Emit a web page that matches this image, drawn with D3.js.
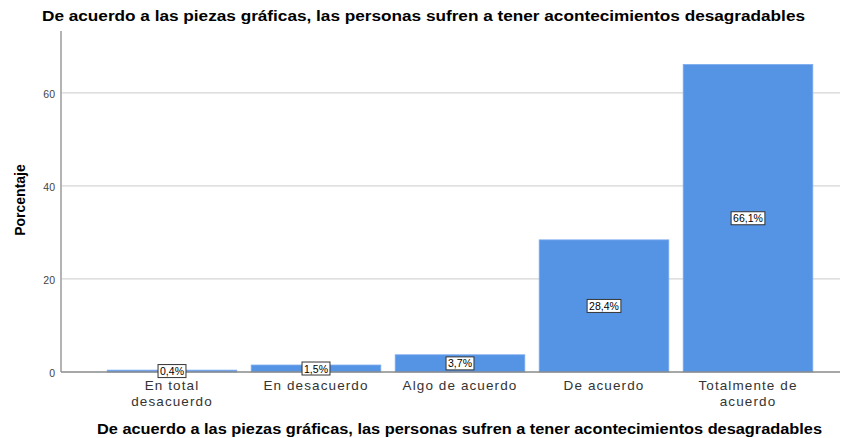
<!DOCTYPE html>
<html>
<head>
<script src="https://d3js.org/d3.v7.min.js"></script>
<style>
body { margin: 0; background: white; }
text { font-family: "Liberation Sans", Arial, sans-serif; }
</style>
</head>
<body>
<svg id="chart" width="845" height="438"></svg>
<script>
var categories = ["En total|desacuerdo", "En desacuerdo", "Algo de acuerdo", "De acuerdo", "Totalmente de|acuerdo"];
var values = [0.4, 1.5, 3.7, 28.4, 66.1];
var valueLabels = ["0,4%", "1,5%", "3,7%", "28,4%", "66,1%"];
var yTicks = [0, 20, 40, 60];
var title = "De acuerdo a las piezas gráficas, las personas sufren a tener acontecimientos desagradables";

var svg = d3.select("#chart");
var plotLeft = 61, plotRight = 840, plotTop = 31, plotBottom = 372;

var x = d3.scaleBand().domain(categories).range([100, 820]).paddingInner(0.1).paddingOuter(0.05);
var y = d3.scaleLinear().domain([0, 73.3]).range([plotBottom, plotTop]);

// gridlines
svg.append("g").selectAll("line").data(yTicks.filter(function(d) { return d > 0; })).enter().append("line")
  .attr("x1", plotLeft + 1).attr("x2", plotRight)
  .attr("y1", function(d) { return y(d); }).attr("y2", function(d) { return y(d); })
  .attr("stroke", "#d6d6d6").attr("stroke-width", 1.2);

// bars
svg.append("g").selectAll("rect").data(values).enter().append("rect")
  .attr("x", function(d, i) { return x(categories[i]); })
  .attr("width", x.bandwidth())
  .attr("y", function(d) { return y(d); })
  .attr("height", function(d) { return plotBottom - y(d); })
  .attr("fill", "#5594e4")
  .attr("stroke", "#7aaaf0").attr("stroke-width", 0.8);

// axes lines
svg.append("line").attr("x1", plotLeft).attr("x2", plotLeft).attr("y1", plotTop).attr("y2", plotBottom)
  .attr("stroke", "#8a8a8a").attr("stroke-width", 1.3);
svg.append("line").attr("x1", plotLeft).attr("x2", plotRight).attr("y1", plotBottom).attr("y2", plotBottom)
  .attr("stroke", "#8a8a8a").attr("stroke-width", 1.3);

// y tick labels
svg.append("g").selectAll("text").data(yTicks).enter().append("text")
  .attr("x", 55).attr("y", function(d) { return y(d) + 5; })
  .attr("text-anchor", "end").attr("font-size", 10.5).attr("fill", "#444")
  .text(function(d) { return d; });

// x tick labels (one text per line)
categories.forEach(function(c) {
  c.split("|").forEach(function(p, j) {
    svg.append("text")
      .attr("text-anchor", "middle").attr("font-size", 13.5).attr("letter-spacing", 1.1).attr("fill", "#333")
      .attr("x", x(c) + x.bandwidth() / 2)
      .attr("y", 390 + j * 15.5)
      .text(p);
  });
});

// value labels
var lab = svg.append("g").selectAll("g").data(values).enter().append("g")
  .attr("transform", function(d, i) {
    return "translate(" + (x(categories[i]) + x.bandwidth() / 2) + "," + ((y(d) + plotBottom) / 2) + ")";
  });
lab.append("text").attr("text-anchor", "middle").attr("y", 4).attr("font-size", 10.5).attr("fill", "#000")
  .text(function(d, i) { return valueLabels[i]; });
lab.insert("rect", "text").each(function() {
  var bb = this.parentNode.querySelector("text").getBBox();
  d3.select(this).attr("x", bb.x - 2).attr("y", bb.y - 0.5).attr("width", bb.width + 4).attr("height", bb.height + 1);
}).attr("fill", "white").attr("stroke", "#333").attr("stroke-width", 1);

// titles
svg.append("text").attr("x", 42).attr("y", 21).attr("font-size", 14).attr("font-weight", "bold")
  .attr("textLength", 763).attr("lengthAdjust", "spacingAndGlyphs").text(title);
svg.append("text").attr("x", 97).attr("y", 434).attr("font-size", 14).attr("font-weight", "bold")
  .attr("textLength", 725).attr("lengthAdjust", "spacingAndGlyphs").text(title);
svg.append("text").attr("transform", "translate(25,200) rotate(-90)")
  .attr("text-anchor", "middle").attr("font-size", 14).attr("font-weight", "bold").text("Porcentaje");
</script>
</body>
</html>
